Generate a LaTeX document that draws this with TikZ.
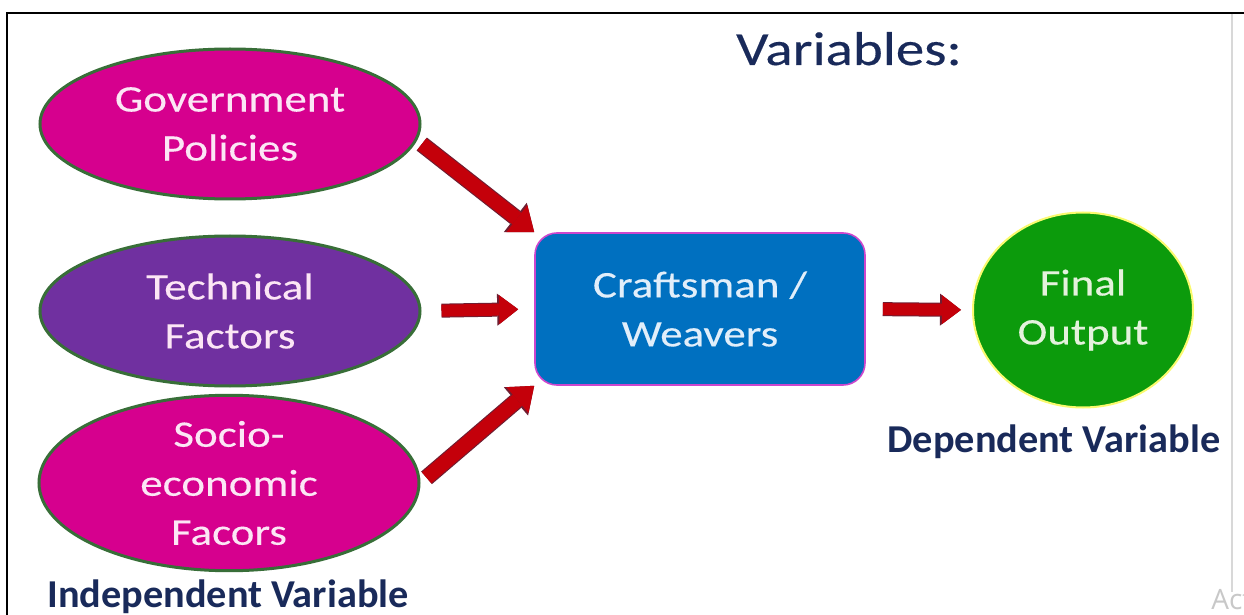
\documentclass[tikz,border=0pt]{standalone}
\usepackage{fontspec}
\setmainfont{Carlito}
\newfontfamily\wideface[FakeStretch=1.2,FakeBold=0.3]{Carlito}
\newfontfamily\labface[FakeStretch=1.02]{Carlito Bold}
\newfontfamily\wmface{Open Sans}
\usetikzlibrary{shapes.geometric,arrows.meta}
\definecolor{magentafill}{RGB}{214,0,142}
\definecolor{purplefill}{RGB}{112,48,160}
\definecolor{ellborder}{RGB}{56,110,56}
\definecolor{elltext}{RGB}{252,230,245}
\definecolor{boxfill}{RGB}{0,112,192}
\definecolor{boxborder}{RGB}{205,70,205}
\definecolor{boxtext}{RGB}{225,238,250}
\definecolor{circfill}{RGB}{12,155,12}
\definecolor{circborder}{RGB}{250,250,110}
\definecolor{circtext}{RGB}{228,242,220}
\definecolor{arrred}{RGB}{196,0,10}
\definecolor{arrdark}{RGB}{110,30,50}
\definecolor{navy}{RGB}{25,42,90}
\definecolor{wmgray}{RGB}{200,200,200}
\tikzset{
  ellnode/.style={ellipse, draw=ellborder, line width=1.5pt, minimum width=190pt,
    minimum height=75pt, inner sep=0pt, align=center, text=elltext,
    font=\wideface\fontsize{18.75pt}{24.5pt}\selectfont},
  hzarrow/.style={line width=6pt, draw=arrred,
    -{Triangle[length=9.5pt,width=14.5pt,line width=0pt,fill=arrred,color=arrred]},
    preaction={draw=arrdark, line width=7pt,
      -{Triangle[length=10.5pt,width=16pt,line width=0pt,fill=arrdark,color=arrdark]}}},
  dgarrow/.style={line width=7.2pt, draw=arrred,
    -{Triangle[length=11pt,width=17pt,line width=0pt,fill=arrred,color=arrred]},
    preaction={draw=arrdark, line width=8.3pt,
      -{Triangle[length=12pt,width=18.6pt,line width=0pt,fill=arrdark,color=arrdark]}}},
  labtext/.style={anchor=base, text=navy, font=\labface\fontsize{19.75pt}{24pt}\selectfont}
}
\begin{document}
\begin{tikzpicture}[x=0.5pt,y=-0.5pt]
\useasboundingbox (0,0) rectangle (1244,615);
\fill[white] (0,0) rectangle (1244,615);
% frame
\draw[black, line width=1.1pt] (7,615) -- (7,13) -- (1244,13);
\draw[wmgray!70, line width=0.6pt] (1232,14) -- (1232,592);
% nodes
\node[ellnode, fill=magentafill] (gp) at (230,124) {Government\\Policies};
\node[ellnode, fill=purplefill] (tf) at (230,311) {Technical\\Factors};
\node[ellnode, fill=magentafill] (se) at (229,483) {Socio-\\economic\\Facors};
\node[rectangle, rounded corners=11pt, draw=boxborder, line width=0.8pt, fill=boxfill,
  minimum width=165pt, minimum height=76pt, inner sep=0pt, align=center, text=boxtext,
  font=\wideface\fontsize{18.75pt}{24.5pt}\selectfont] (cw) at (700,309) {Craftsman /\\Weavers};
\node[ellipse, draw=circborder, line width=1pt, fill=circfill, minimum width=110pt,
  minimum height=97.5pt, inner sep=0pt, align=center, text=circtext,
  font=\wideface\fontsize{18.75pt}{24.5pt}\selectfont] (fo) at (1083,310) {Final\\Output};
% labels
\node[anchor=base, text=navy, font=\wideface\fontsize{23.75pt}{28pt}\selectfont] (title) at (849,65) {Variables:};
\node[labtext] (indep) at (228,607) {Independent Variable};
\node[labtext] (dep) at (1054,452) {Dependent Variable};
\node[anchor=base west, inner sep=0pt, text=wmgray, font=\wmface\fontsize{14pt}{16pt}\selectfont] (wm) at (1211,609) {Act};
% arrows
\draw[dgarrow, shorten <=3pt] (gp.-5) -- (cw.north west);
\draw[hzarrow, shorten <=10pt, shorten >=8pt] (tf.east) -- (cw.west);
\draw[dgarrow, shorten <=4pt] (se.east) -- (cw.south west);
\draw[hzarrow, shorten <=8.5pt, shorten >=5.5pt] (cw.east) -- (fo.west);
\end{tikzpicture}
\end{document}
